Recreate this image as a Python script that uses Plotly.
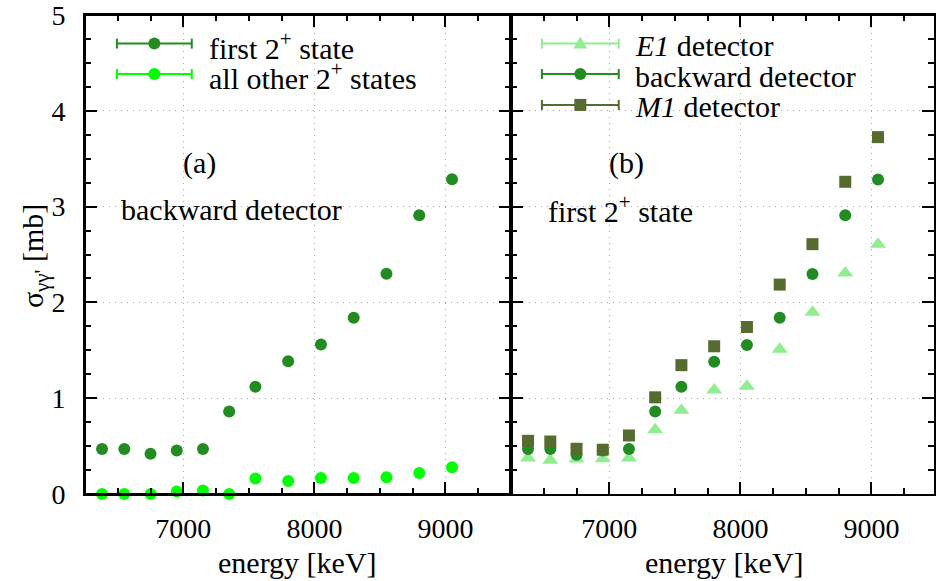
import plotly.graph_objects as go

# ---------------- data ----------------
energy = [6380, 6550, 6750, 6950, 7150, 7350, 7550, 7800, 8050, 8300, 8550, 8800, 9050]
first_2plus = [0.47, 0.47, 0.42, 0.455, 0.47, 0.86, 1.12, 1.385, 1.56, 1.84, 2.30, 2.91, 3.285]
other_2plus = [0.0, 0.0, 0.0, 0.026, 0.036, 0.0, 0.161, 0.135, 0.168, 0.168, 0.175, 0.22, 0.28]
e1_det = [0.376, 0.351, 0.365, 0.368, 0.376, 0.67, 0.875, 1.085, 1.125, 1.51, 1.898, 2.307, 2.608]
backward_det = [0.47, 0.47, 0.41, 0.455, 0.47, 0.86, 1.12, 1.38, 1.556, 1.84, 2.297, 2.91, 3.283]
m1_det = [0.555, 0.548, 0.472, 0.462, 0.611, 1.009, 1.345, 1.542, 1.743, 2.186, 2.608, 3.259, 3.725]

xticks = [7000, 8000, 9000]
yticks = [0, 1, 2, 3, 4, 5]

C_FIRST = "#228B22"
C_OTHER = "#00FF00"
C_E1 = "#90EE90"
C_M1 = "#556B2F"

FONT = "Liberation Serif"
TXT = 30
TICK = 28

W, H = 936, 581
ML, MR, MT, MB = 85, 0, 13, 87
PW = W - ML - MR
PH = H - MT - MB
SPLIT = (512 - ML) / PW


def px(x):
    return (x - ML) / PW


def py(y):
    return (H - MB - y) / PH


fig = go.Figure()

mk = dict(size=12, line=dict(width=0))
fig.add_trace(go.Scatter(x=energy, y=first_2plus, mode="markers", xaxis="x", yaxis="y",
                         marker=dict(symbol="circle", color=C_FIRST, **mk), cliponaxis=False,
                         showlegend=False))
fig.add_trace(go.Scatter(x=energy, y=other_2plus, mode="markers", xaxis="x", yaxis="y",
                         marker=dict(symbol="circle", color=C_OTHER, **mk), cliponaxis=False,
                         showlegend=False))
fig.add_trace(go.Scatter(x=energy, y=e1_det, mode="markers", xaxis="x2", yaxis="y2",
                         marker=dict(symbol="triangle-up", color=C_E1, size=14, line=dict(width=0)),
                         cliponaxis=False, showlegend=False))
fig.add_trace(go.Scatter(x=energy, y=backward_det, mode="markers", xaxis="x2", yaxis="y2",
                         marker=dict(symbol="circle", color=C_FIRST, **mk), cliponaxis=False,
                         showlegend=False))
fig.add_trace(go.Scatter(x=energy, y=m1_det, mode="markers", xaxis="x2", yaxis="y2",
                         marker=dict(symbol="square", color=C_M1, size=12, line=dict(width=0)),
                         cliponaxis=False, showlegend=False))

GRID = dict(showgrid=True, gridcolor="#a8a8a8", griddash="1px,5px", gridwidth=1)
LINE = dict(showline=True, linecolor="black", linewidth=2, mirror="allticks",
            ticks="inside", ticklen=12, tickwidth=1.5, tickcolor="black",
            zeroline=False, tickfont=dict(family=FONT, size=TICK, color="black"),
            ticklabeloverflow="allow")
XMINOR = dict(dtick=250, tick0=6250, ticks="inside", ticklen=6, tickwidth=1.5,
              tickcolor="black", showgrid=False)
YMINOR = dict(dtick=0.25, tick0=0, ticks="inside", ticklen=6, tickwidth=1.5,
              tickcolor="black", showgrid=False)

fig.update_layout(
    width=W, height=H,
    margin=dict(l=ML, r=MR, t=MT, b=MB),
    paper_bgcolor="white", plot_bgcolor="white",
    showlegend=False,
    font=dict(family=FONT),
    xaxis=dict(domain=[0, SPLIT], range=[6250, 9500], tickvals=xticks, anchor="y",
               minor=XMINOR, ticklabelstandoff=8, **GRID, **LINE),
    yaxis=dict(domain=[0, 1], range=[0, 5], tickvals=yticks, anchor="x",
               minor=YMINOR, ticklabelstandoff=12, **GRID, **LINE),
    xaxis2=dict(domain=[SPLIT, 1], range=[6250, 9477], tickvals=xticks, anchor="y2",
                minor=XMINOR, ticklabelstandoff=8, **GRID, **LINE),
    yaxis2=dict(domain=[0, 1], range=[0, 5], tickvals=yticks, anchor="x2",
                showticklabels=False, minor=YMINOR, **GRID, **LINE),
)

annotations = []
shapes = []

# explicit frame around the left panel (top edge)
shapes.append(dict(type="rect", xref="x domain", yref="y domain", x0=0, x1=1, y0=0, y1=1,
                   line=dict(color="black", width=2), layer="above"))
shapes.append(dict(type="line", xref="x2 domain", yref="y2 domain", x0=0, x1=1, y0=1, y1=1,
                   line=dict(color="black", width=2), layer="above"))


def text(x, y, s, xanchor="left", angle=0):
    annotations.append(dict(x=px(x), y=py(y), xref="paper", yref="paper", text=s,
                            showarrow=False, xanchor=xanchor, yanchor="middle", textangle=angle,
                            font=dict(family=FONT, size=TXT, color="black")))


def legend_item(x0, x1, y, color, symbol, label, tx):
    shapes.append(dict(type="line", xref="paper", yref="paper", x0=px(x0), x1=px(x1),
                       y0=py(y), y1=py(y), line=dict(color=color, width=2)))
    for xc in (x0, x1):
        shapes.append(dict(type="line", xref="paper", yref="paper", x0=px(xc), x1=px(xc),
                           y0=py(y - 5), y1=py(y + 5), line=dict(color=color, width=2)))
    xm = (x0 + x1) / 2
    base = dict(xref="paper", yref="paper", xsizemode="pixel", ysizemode="pixel",
                xanchor=px(xm), yanchor=py(y), fillcolor=color, line=dict(width=0))
    if symbol == "circle":
        shapes.append(dict(type="circle", x0=-6, x1=6, y0=-6, y1=6, **base))
    elif symbol == "square":
        shapes.append(dict(type="rect", x0=-6, x1=6, y0=-6, y1=6, **base))
    else:
        shapes.append(dict(type="path", path="M-7,-5 L7,-5 L0,7 Z", **base))
    text(tx, y + 2, label)


legend_item(117, 192, 41.7, C_FIRST, "circle", "first 2<sup>+</sup> state", 207)
legend_item(117, 192, 72.3, C_OTHER, "circle", "all other 2<sup>+</sup> states", 207)
legend_item(543, 620, 41.7, C_E1, "triangle", "<i>E1</i> detector", 634)
legend_item(543, 620, 72.3, C_FIRST, "circle", "backward detector", 634)
legend_item(543, 620, 103.3, C_M1, "square", "<i>M1</i> detector", 634)

text(200, 161.5, "(a)", xanchor="center")
text(119, 208, "backward detector")
text(628, 161.5, "(b)", xanchor="center")
text(547, 208, "first 2<sup>+</sup> state")

text(298, 563, "energy [keV]", xanchor="center")
text(726, 563, "energy [keV]", xanchor="center")
text(35, 255, "σ<sub>γγ'</sub> [mb]", xanchor="center", angle=-90)

fig.update_layout(annotations=annotations, shapes=shapes)

fig.write_html("out.html")
